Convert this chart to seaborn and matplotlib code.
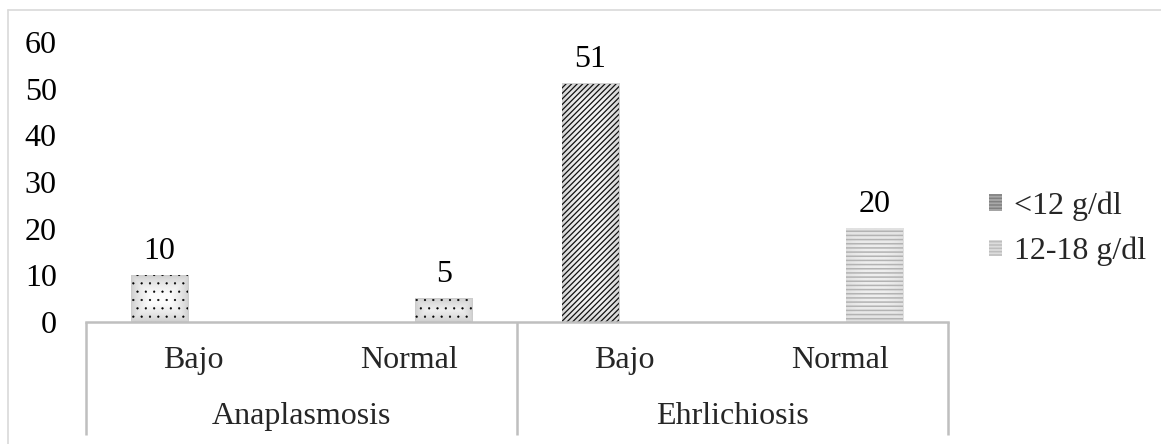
import numpy as np
import pandas as pd
import matplotlib
matplotlib.use("Agg")
import matplotlib.pyplot as plt
from matplotlib.patches import Patch
from matplotlib.lines import Line2D
import seaborn as sns

# Data: infected dogs grouped by disease and haemoglobin level
diseases = ["Anaplasmosis", "Anaplasmosis", "Ehrlichiosis", "Ehrlichiosis"]
levels = ["Bajo", "Normal", "Bajo", "Normal"]
hemoglobin = ["<12 g/dl", "12-18 g/dl", "<12 g/dl", "12-18 g/dl"]
counts = [10, 5, 51, 20]
series = ["<12 g/dl", "12-18 g/dl"]
groups = ["Anaplasmosis", "Ehrlichiosis"]
y_ticks = [0, 10, 20, 30, 40, 50, 60]

slots = [f"{d} · {l}" for d, l in zip(diseases, levels)]
df = pd.DataFrame({"slot": slots, "hb": hemoglobin, "n": counts})

sns.set_theme(style="white")
plt.rcParams["font.family"] = ["Liberation Serif", "DejaVu Serif"]
plt.rcParams["hatch.linewidth"] = 1.1
FS = 23
AXIS_GRAY = "#BFBFBF"

W, H = 1161, 444
fig = plt.figure(figsize=(W / 100, H / 100), dpi=100)
ax = fig.add_axes([86 / W, (H - 322) / H, (948 - 86) / W, 280 / H])

sns.barplot(data=df, x="slot", y="n", hue="hb", order=slots, hue_order=series,
            dodge=True, width=0.64, gap=0.17, errorbar=None, legend=False,
            ax=ax)

ax.set_xlim(-0.5, len(slots) - 0.5)
ax.set_ylim(0, 60)

# per-slot fill style: (hatch, hatch colour, hatch width, edge grey, centre grey)
styles = [
    ("..", "black", 0.35, 0.80, 0.985),
    ("..", "black", 0.35, 0.80, 0.985),
    ("//////", "#111111", 0.9, 0.82, 0.95),
    ("----", "#B3B3B3", 1.1, 0.88, 0.93),
]

px_per_unit = 280 / 60
for cont in ax.containers:
    for bar in cont:
        x0, w, h = bar.get_x(), bar.get_width(), bar.get_height()
        if not np.isfinite(h) or h <= 0:
            continue
        idx = int(round(x0 + w / 2))
        hatch, hcol, hlw, g_edge, g_mid = styles[idx]
        nx = 57
        ny = max(int(h * px_per_unit), 2)
        ix = np.arange(nx)
        iy = np.arange(ny)
        dx = np.minimum(ix, nx - 1 - ix)[None, :]
        dy = np.minimum(iy, ny - 1 - iy)[:, None]
        d = np.minimum(dx, dy) / (nx / 2)
        grad = g_edge + (g_mid - g_edge) * np.clip(d * 1.6, 0, 1) ** 0.7
        ax.imshow(grad, cmap="gray", vmin=0, vmax=1, aspect="auto",
                  extent=[x0, x0 + w, 0, h], origin="lower",
                  interpolation="bilinear", zorder=1.5)
        bar.set_facecolor("none")
        bar.set_edgecolor(hcol)
        bar.set_linewidth(0)
        bar.set_hatch(hatch)
        if hasattr(bar, "set_hatch_linewidth"):
            bar.set_hatch_linewidth(hlw)
        bar.set_zorder(2)

ax.set_xlim(-0.5, len(slots) - 0.5)
ax.set_ylim(0, 60)

# value labels above bars
for cont in ax.containers:
    ax.bar_label(cont, fmt="%g", padding=7, fontsize=FS, color="black")

# axes styling
for side in ("left", "right", "top"):
    ax.spines[side].set_visible(False)
ax.spines["bottom"].set_color(AXIS_GRAY)
ax.spines["bottom"].set_linewidth(1.8)
ax.set_yticks(y_ticks)
ax.set_yticklabels([str(t) for t in y_ticks], fontsize=FS)
ax.tick_params(axis="y", length=0, pad=21, colors="black")
ax.set_xticks([])
ax.set_xlabel("")
ax.set_ylabel("")
ax.grid(False)

# two-level category axis
xt = ax.get_xaxis_transform()
sep_bottom = (322 - 435) / 280
for xs in (-0.5, 1.5, 3.5):
    ax.plot([xs, xs], [0, sep_bottom], transform=xt, color=AXIS_GRAY,
            lw=1.8, clip_on=False, solid_capstyle="butt")
for i, lab in enumerate(levels):
    ax.text(i, (322 - 360) / 280, lab, transform=xt, ha="center", va="center",
            fontsize=FS)
for g, name in enumerate(groups):
    ax.text(2 * g + 0.5, (322 - 416) / 280, name, transform=xt, ha="center",
            va="center", fontsize=FS)

# legend
handles = [
    Patch(facecolor="#A8A8A8", edgecolor="#808080", hatch="-----", lw=0),
    Patch(facecolor="#DCDCDC", edgecolor="#BDBDBD", hatch="-----", lw=0),
]
fig.legend(handles, series, loc="center left",
           bbox_to_anchor=(989 / W, (H - 229) / H), frameon=False,
           fontsize=FS, handlelength=0.42, handleheight=0.42,
           handletextpad=0.35, labelspacing=0.5, borderpad=0,
           borderaxespad=0)

# chart frame
fig.add_artist(Line2D([8 / W, 1], [1 - 10 / H] * 2, color="#D9D9D9", lw=1.2))
fig.add_artist(Line2D([8 / W] * 2, [1 - 10 / H, 0], color="#D9D9D9", lw=1.2))

fig.savefig("out.png", dpi=100)
